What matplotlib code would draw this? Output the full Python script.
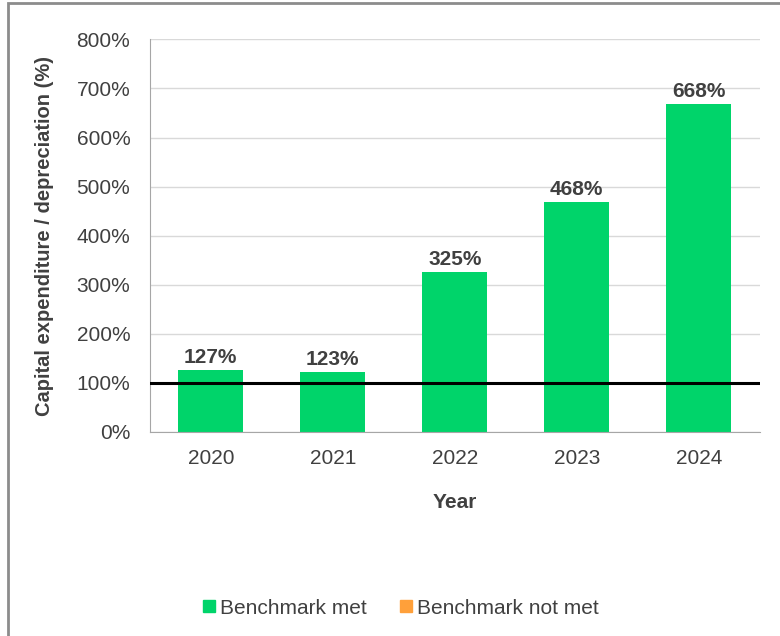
import matplotlib
matplotlib.use("Agg")
import matplotlib.pyplot as plt
from matplotlib.patches import Rectangle, Patch
from matplotlib.ticker import FuncFormatter

plt.rcParams["font.family"] = ["Liberation Sans", "DejaVu Sans"]

years = ["2020", "2021", "2022", "2023", "2024"]
ratio = [127, 123, 325, 468, 668]
benchmark = 100
bar_labels = ["127%", "123%", "325%", "468%", "668%"]

GREEN = "#00d46a"
ORANGE = "#ffa03a"
TEXT = "#404040"

fig = plt.figure(figsize=(7.8, 6.36), dpi=100)
ax = fig.add_axes([0.192, 0.321, 0.782, 0.617])

x = range(len(years))
bars = ax.bar(x, ratio, width=0.535, color=GREEN, zorder=2)
for b, lab in zip(bars, bar_labels):
    ax.text(b.get_x() + b.get_width() / 2, b.get_height() + 6, lab,
            ha="center", va="bottom", fontsize=15, fontweight="bold", color=TEXT,
            zorder=4)

ax.axhline(benchmark, color="black", lw=2.2, zorder=3)

ax.set_xlim(-0.5, len(years) - 0.5)
ax.set_ylim(0, 800)
ax.set_yticks(range(0, 801, 100))
ax.yaxis.set_major_formatter(FuncFormatter(lambda v, _: "%d%%" % v))
ax.set_xticks(list(x))
ax.set_xticklabels(years)
ax.tick_params(length=0, labelsize=15, labelcolor=TEXT)
ax.tick_params(axis="y", pad=14)
ax.tick_params(axis="x", pad=12)
ax.grid(axis="y", color="#d9d9d9", lw=1, zorder=0)
for s in ("top", "right"):
    ax.spines[s].set_visible(False)
for s in ("left", "bottom"):
    ax.spines[s].set_color("#a6a6a6")

ax.set_xlabel("Year", fontsize=15, fontweight="bold", color=TEXT, labelpad=18)
ax.set_ylabel("Capital expenditure / depreciation (%)", fontsize=14.5,
              fontweight="bold", color=TEXT, labelpad=16)

handles = [Patch(color=GREEN, label="Benchmark met"),
           Patch(color=ORANGE, label="Benchmark not met")]
fig.legend(handles=handles, loc="center", bbox_to_anchor=(0.514, 0.044), ncol=2,
           frameon=False, fontsize=15, handlelength=0.55, handleheight=0.55,
           handletextpad=0.25, columnspacing=1.6, labelcolor=TEXT)

# outer frame (only top and left edges fall inside the canvas)
fig.patches.append(Rectangle((8 / 780, -0.1), 1.2, 1.1 - 3 / 636,
                             transform=fig.transFigure, fill=False,
                             edgecolor="#8c8c8c", lw=2))

fig.savefig("out.png", dpi=100)
